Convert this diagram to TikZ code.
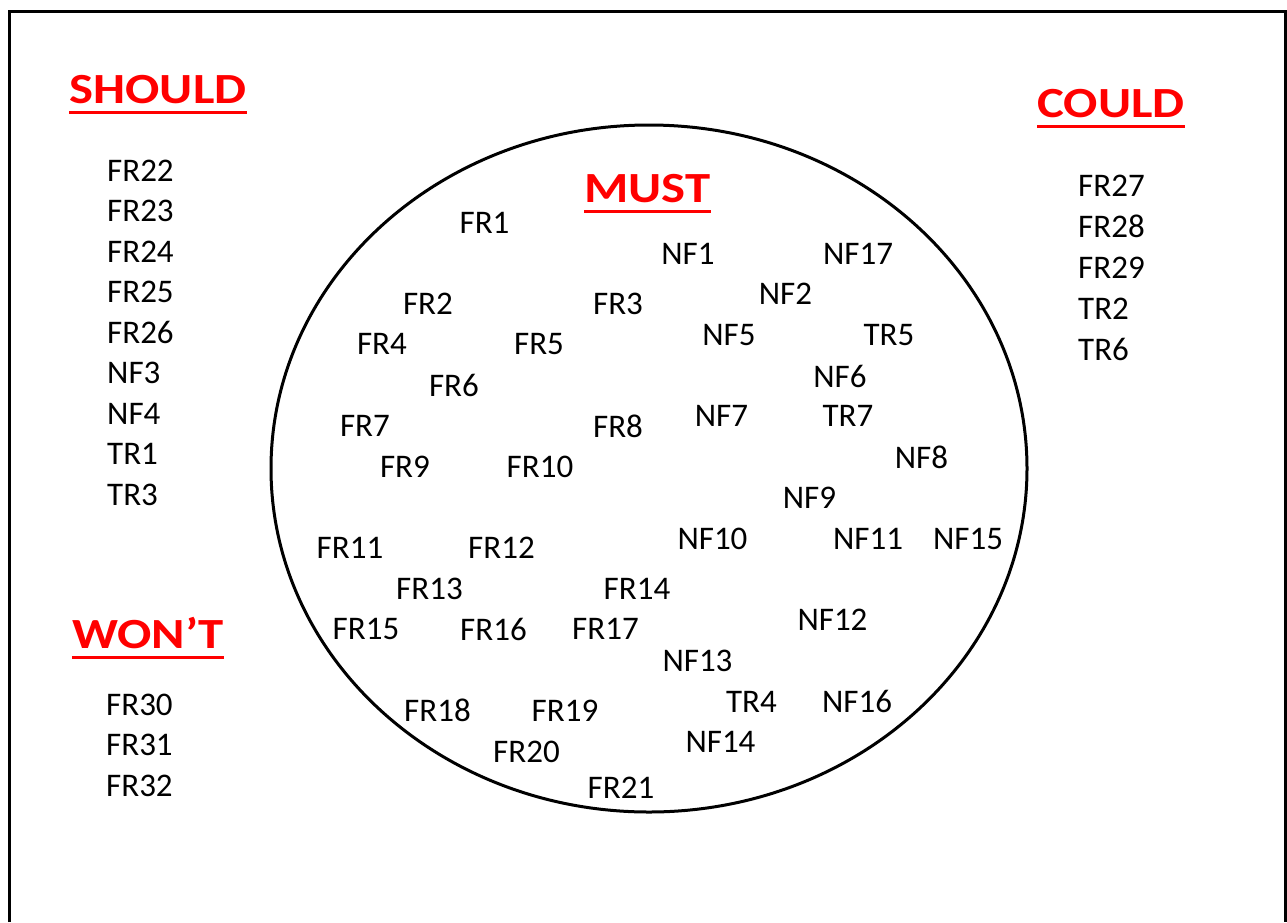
\documentclass[tikz,border=0pt]{standalone}
\usepackage{fontspec}
\usepackage{graphicx}
\setmainfont{Carlito}
\newcommand{\hd}[1]{\scalebox{1.18}[1]{#1}}
\tikzset{
  req/.style={inner sep=0pt, font=\fontsize{33}{39}\selectfont},
  heading/.style={inner sep=0pt, anchor=base, text=red, font=\fontsize{43}{50}\selectfont\bfseries},
  underl/.style={draw=red, line width=3pt}
}
\begin{document}
\begin{tikzpicture}[x=1pt,y=-1pt]
  \useasboundingbox (0,0) rectangle (1287,922);
  % frame, open at the bottom
  \draw[line width=3pt] (9.7,922) -- (9.7,11.7) -- (1285.5,11.7) -- (1285.5,922);
  % must circle
  \draw[line width=3pt] (649,468.5) ellipse [x radius=378, y radius=343.5];

  % headings
  \node[heading] (should) at (158,103) {\hd{SHOULD}};
  \node[heading] (could) at (1111,117) {\hd{COULD}};
  \node[heading] (must) at (647.5,202) {\hd{MUST}};
  \node[heading] (wont) at (148,648) {\hd{WON’T}};
  \foreach \h in {should,could,must,wont}
    \draw[underl] ([yshift=-9.5pt]\h.base west) -- ([yshift=-9.5pt]\h.base east);

  % should list
  \foreach \t [count=\i from 0] in {FR22,FR23,FR24,FR25,FR26,NF3,NF4,TR1,TR3}
    \node[req, anchor=base west] (s-\t) at (107,181+40.5*\i) {\t};
  % won't list
  \foreach \t [count=\i from 0] in {FR30,FR31,FR32}
    \node[req, anchor=base west] (w-\t) at (106,715+40.5*\i) {\t};
  % could list
  \foreach \t [count=\i from 0] in {FR27,FR28,FR29,TR2,TR6}
    \node[req, anchor=base west] (c-\t) at (1078,196+41*\i) {\t};

  % inside the circle
  \foreach \t/\x/\y in {
      FR1/484.5/222.5, NF1/688/253.5, NF17/858/253.5, NF2/785.5/294,
      FR2/428/303.5, FR3/618/303.5, NF5/729/335, TR5/889/335,
      FR4/382/344, FR5/539/344, FR6/454/385, NF6/840/376,
      FR7/365/426, FR8/618/426, NF7/721.5/416, TR7/848/416,
      NF8/921.5/457.5, FR9/405/467, FR10/540/467, NF9/809.5/497.5,
      FR11/350/547.5, FR12/501.5/547.5, NF10/712.5/538.5, NF11/868/538.5,
      NF15/968/538.5, FR13/429.5/588.5, FR14/637/588.5, NF12/832.5/619.5,
      FR15/366/629, FR16/493.5/629, FR17/605.5/629, NF13/697.5/660.5,
      TR4/751.5/701.5, NF16/857/701.5, FR18/437.5/710.5, FR19/565/710.5,
      FR20/526.5/751.5, NF14/720.5/742, FR21/621/788}
    \node[req] (\t) at (\x,\y) {\t};
\end{tikzpicture}
\end{document}
